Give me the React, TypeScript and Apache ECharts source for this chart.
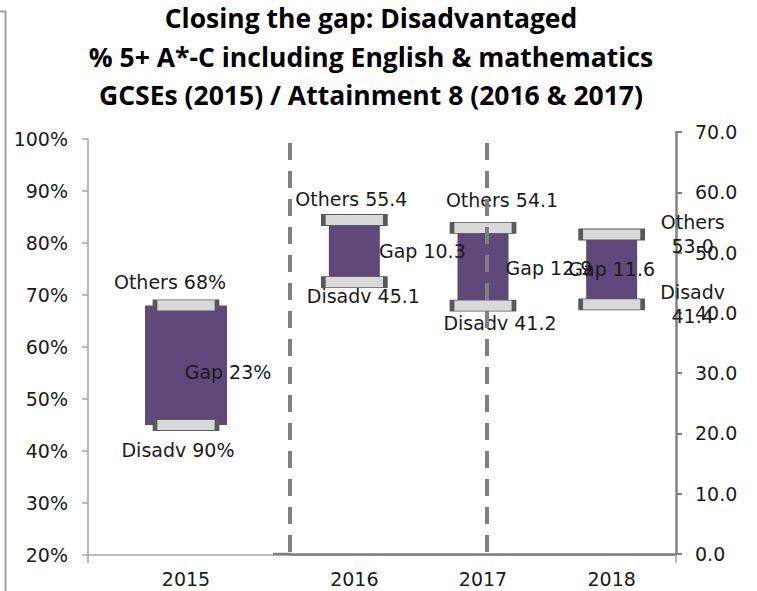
import React, { useEffect, useRef } from "react";
import * as echarts from "echarts";

// ---------- data ----------
const titleLines = [
  "Closing the gap: Disadvantaged",
  "% 5+ A*-C including English & mathematics",
  "GCSEs (2015) / Attainment 8 (2016 & 2017)",
];

// primary (percentage) axis: 2015
const primaryCategories = ["2015", "", ""];
const primaryOthers = [68];
const primaryDisadv = [45];
const primaryGap = [23];
const primaryOthersText = ["Others 68%"];
const primaryDisadvText = ["Disadv 90%"];
const primaryGapText = ["Gap 23%"];

// secondary (Attainment 8) axis: 2016-2018
const secondaryCategories = ["2016", "2017", "2018"];
const secondaryOthers = [55.4, 54.1, 53.0];
const secondaryDisadv = [45.1, 41.2, 41.4];
const secondaryGap = [10.3, 12.9, 11.6];

// axis ranges
const leftMin = 20;
const leftMax = 100;
const leftStep = 10;
const rightMin = 0;
const rightMax = 70;
const rightStep = 10;

// ---------- layout / style ----------
const PURPLE = "#5f497a";
const CAP_FILL = "#d9d9d9";
const CAP_BORDER = "#595959";
const TEXT = "#1a1a1a";
const FONT = "DejaVu Sans";
const FS = 19;

const primaryOffsets = { others: [-16, -23], disadv: [-8, 25], gap: [42, 7] };
const secondaryOthersOffsets = [[-3, -21], [19, -28], [81, 0]];
const secondaryGapOffsets = [[68, 0], [66, 1], [0, 0]];
const secondaryDisadvOffsets = [[9, 14], [17, 17], [81, 0]];
const secondaryWrap = [false, false, true];

const labelStyle = {
  fontFamily: FONT,
  fontSize: FS,
  color: TEXT,
  lineHeight: 24,
  opacity: 1,
  textBorderWidth: 0,
  textBorderColor: "transparent",
  textShadowBlur: 0,
};

function buildOption() {
  const capStyle = {
    color: CAP_FILL,
    borderColor: CAP_BORDER,
    borderWidth: 2,
    opacity: 1,
  };

  const capSeries = (
    axis: number,
    values: number[],
    offsets: number[][],
    text: (v: number, i: number) => string
  ) => ({
    type: "scatter",
    xAxisIndex: axis,
    yAxisIndex: axis,
    symbol: "rect",
    symbolSize: [62, 11],
    itemStyle: capStyle,
    emphasis: { disabled: true },
    z: 3,
    data: values.map((v, i) => ({
      value: [i, v],
      label: {
        show: true,
        position: "inside",
        offset: offsets[i],
        formatter: () => text(v, i),
        ...labelStyle,
      },
    })),
  });

  const series: any[] = [
    // ---- 2015 (primary) ----
    {
      type: "bar",
      xAxisIndex: 0,
      yAxisIndex: 0,
      stack: "p",
      barWidth: 82,
      silent: true,
      itemStyle: { color: "rgba(0,0,0,0)" },
      data: primaryDisadv,
      z: 1,
    },
    {
      type: "bar",
      xAxisIndex: 0,
      yAxisIndex: 0,
      stack: "p",
      barWidth: 82,
      itemStyle: { color: PURPLE },
      data: primaryGap.map((v, i) => ({
        value: v,
        label: {
          show: true,
          position: "inside",
          offset: primaryOffsets.gap,
          formatter: () => primaryGapText[i],
          ...labelStyle,
        },
      })),
      z: 2,
    },
    capSeries(0, primaryOthers, [primaryOffsets.others], (_v, i) => primaryOthersText[i]),
    capSeries(0, primaryDisadv, [primaryOffsets.disadv], (_v, i) => primaryDisadvText[i]),
    // ---- 2016-2018 (secondary) ----
    {
      type: "bar",
      xAxisIndex: 1,
      yAxisIndex: 1,
      stack: "s",
      barWidth: 51,
      silent: true,
      itemStyle: { color: "rgba(0,0,0,0)" },
      data: secondaryDisadv,
      z: 1,
    },
    {
      type: "bar",
      xAxisIndex: 1,
      yAxisIndex: 1,
      stack: "s",
      barWidth: 51,
      itemStyle: { color: PURPLE },
      data: secondaryGap.map((v, i) => ({
        value: v,
        label: {
          show: true,
          position: "inside",
          offset: secondaryGapOffsets[i],
          formatter: () => `Gap ${v.toFixed(1)}`,
          ...labelStyle,
        },
      })),
      z: 2,
    },
    capSeries(1, secondaryOthers, secondaryOthersOffsets, (v, i) =>
      `Others${secondaryWrap[i] ? "\n" : " "}${v.toFixed(1)}`
    ),
    capSeries(1, secondaryDisadv, secondaryDisadvOffsets, (v, i) =>
      `Disadv${secondaryWrap[i] ? "\n" : " "}${v.toFixed(1)}`
    ),
  ];

  const axisLabelStyle = {
    fontFamily: FONT,
    fontSize: FS,
    color: TEXT,
  };

  const dashStyle = {
    stroke: "#808080",
    lineWidth: 4,
    lineDash: [17, 11],
  };

  return {
    animation: false,
    backgroundColor: "#ffffff",
    title: {
      text: titleLines.join("\n"),
      left: 371,
      top: -1,
      padding: 0,
      textAlign: "center",
      textStyle: {
        fontFamily: "Open Sans",
        fontWeight: "bold",
        fontSize: 26.5,
        lineHeight: 38.5,
        color: "#000000",
      },
    },
    grid: [
      { left: 88, right: 81, top: 139, bottom: 36 },
      { left: 290, right: 81, top: 132, bottom: 37 },
    ],
    xAxis: [
      {
        gridIndex: 0,
        type: "category",
        data: primaryCategories,
        axisLine: { show: true, lineStyle: { color: "#a6a6a6", width: 1.5 } },
        axisTick: {
          show: true,
          length: 8,
          interval: (i: number) => i === 0,
          lineStyle: { color: "#a6a6a6", width: 1.5 },
        },
        axisLabel: { margin: 14, ...axisLabelStyle },
      },
      {
        gridIndex: 1,
        type: "category",
        data: secondaryCategories,
        axisLine: { show: true, lineStyle: { color: "#808080", width: 2.5 } },
        axisTick: { show: false },
        axisLabel: { margin: 15, ...axisLabelStyle },
      },
    ],
    yAxis: [
      {
        gridIndex: 0,
        type: "value",
        position: "left",
        min: leftMin,
        max: leftMax,
        interval: leftStep,
        axisLine: { show: true, lineStyle: { color: "#a6a6a6", width: 1.5 } },
        axisTick: { show: true, length: 6, lineStyle: { color: "#a6a6a6", width: 1.5 } },
        splitLine: { show: false },
        axisLabel: { formatter: "{value}%", margin: 20, ...axisLabelStyle },
      },
      {
        gridIndex: 1,
        type: "value",
        position: "right",
        min: rightMin,
        max: rightMax,
        interval: rightStep,
        axisLine: { show: true, lineStyle: { color: "#808080", width: 2.5 } },
        axisTick: { show: true, length: 6, lineStyle: { color: "#808080", width: 2 } },
        splitLine: { show: false },
        axisLabel: {
          formatter: (v: number) => v.toFixed(1),
          margin: 19,
          ...axisLabelStyle,
        },
      },
    ],
    graphic: [
      {
        type: "line",
        z: 100,
        shape: { x1: 5.5, y1: 11, x2: 5.5, y2: 591 },
        style: { stroke: "#a0a0a0", lineWidth: 2 },
      },
      {
        type: "line",
        z: 100,
        shape: { x1: 0, y1: 11.5, x2: 6, y2: 11.5 },
        style: { stroke: "#a0a0a0", lineWidth: 2 },
      },
      {
        type: "line",
        z: 100,
        shape: { x1: 273, y1: 554, x2: 291, y2: 554 },
        style: { stroke: "#808080", lineWidth: 2.5 },
      },
      {
        type: "line",
        z: 100,
        shape: { x1: 290, y1: 143, x2: 290, y2: 561 },
        style: dashStyle,
      },
      {
        type: "line",
        z: 100,
        shape: { x1: 487, y1: 143, x2: 487, y2: 561 },
        style: dashStyle,
      },
    ],
    series,
  };
}

export default function App() {
  const ref = useRef<HTMLDivElement>(null);
  useEffect(() => {
    if (!ref.current) return;
    const chart = echarts.init(ref.current, undefined, { renderer: "svg" });
    chart.setOption(buildOption() as any);
    return () => chart.dispose();
  }, []);
  return (
    <div
      ref={ref}
      style={{
        position: "fixed",
        left: 0,
        top: 0,
        width: 757,
        height: 591,
        background: "#fff",
      }}
    />
  );
}
